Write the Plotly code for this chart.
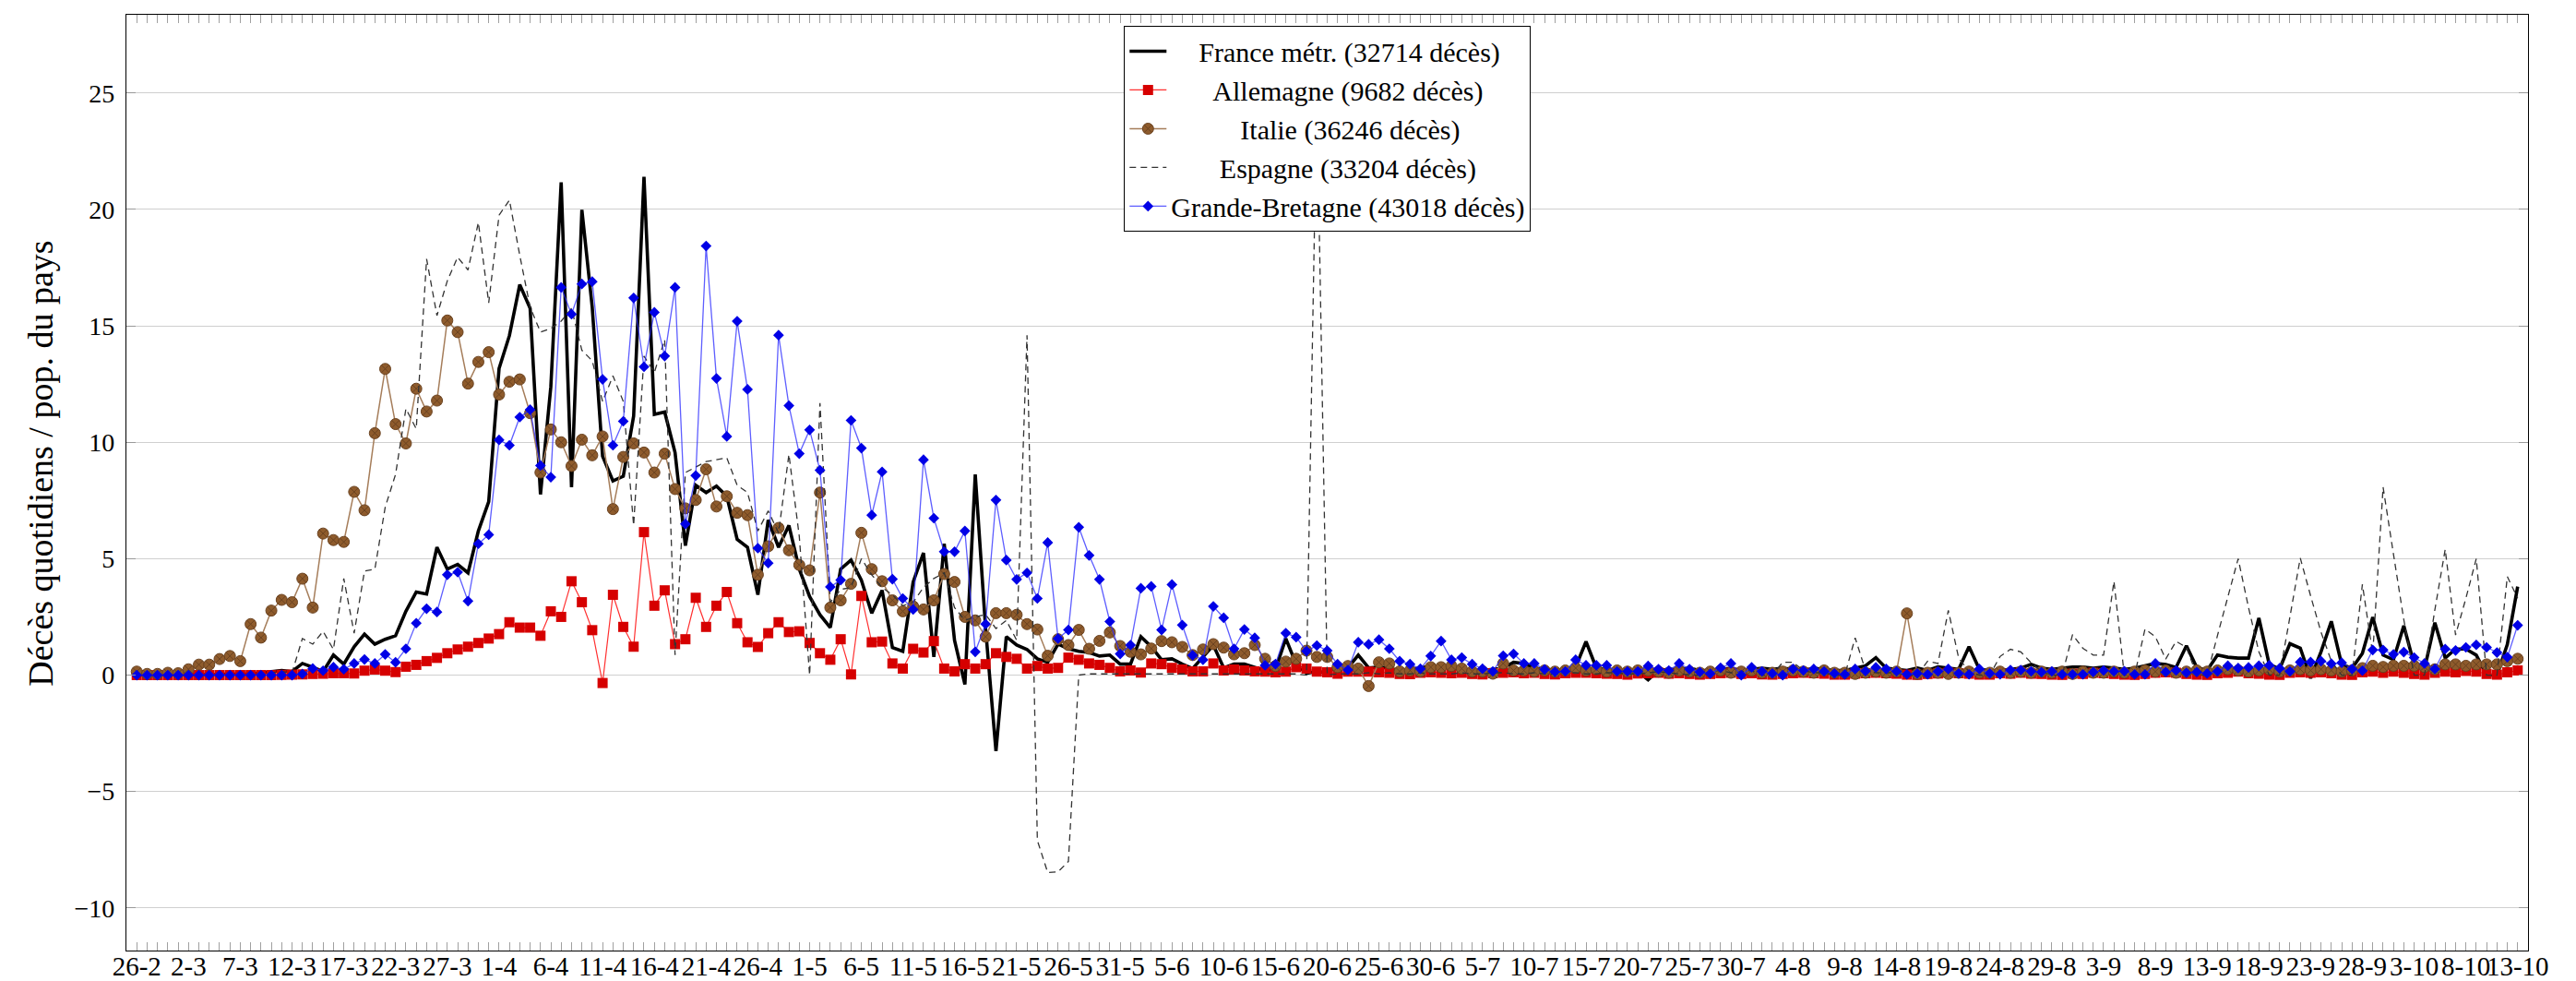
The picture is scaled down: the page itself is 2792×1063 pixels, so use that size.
import pandas as pd
import plotly.graph_objects as go

# ===== Data : décès quotidiens par million d'habitants, 26-2 -> 13-10 =====
days = pd.date_range("2020-02-26", "2020-10-13", freq="D")

tick_labels = ["26-2", "2-3", "7-3", "12-3", "17-3", "22-3", "27-3", "1-4", "6-4", "11-4",
               "16-4", "21-4", "26-4", "1-5", "6-5", "11-5", "16-5", "21-5", "26-5", "31-5",
               "5-6", "10-6", "15-6", "20-6", "25-6", "30-6", "5-7", "10-7", "15-7", "20-7",
               "25-7", "30-7", "4-8", "9-8", "14-8", "19-8", "24-8", "29-8", "3-9", "8-9",
               "13-9", "18-9", "23-9", "28-9", "3-10", "8-10", "13-10"]

france = [
    0, 0, 0.02, 0, 0, 0.02, 0.03, 0.02, 0.03, 0.05,
    0.03, 0.05, 0.1, 0.15, 0.2, 0.15, 0.5, 0.34, 0.15, 0.86,
    0.47, 1.22, 1.76, 1.33, 1.54, 1.69, 2.74, 3.57, 3.48, 5.49,
    4.55, 4.75, 4.39, 6.19, 7.45, 13.17, 14.58, 16.77, 15.75, 7.76,
    12.38, 21.16, 8.07, 19.98, 15.8, 9.4, 8.34, 8.54, 11.13, 21.4,
    11.2, 11.3, 9.56, 5.56, 8.15, 7.84, 8.12, 7.68, 5.83, 5.49,
    3.45, 6.66, 5.49, 6.43, 4.55, 3.37, 2.59, 2.04, 4.55, 4.94,
    4.08, 2.66, 3.64, 1.18, 1.02, 4.0, 5.25, 0.78, 5.64, 1.49,
    -0.4, 8.62, 2.0, -3.26, 1.65, 1.29, 1.1, 0.7, 0.55, 1.33,
    1.13, 1.02, 0.97, 0.82, 0.86, 0.47, 0.47, 1.65, 1.22, 0.66,
    0.7, 0.47, 0.28, 0.78, 1.29, 0.31, 0.47, 0.47, 0.34, 0.19,
    0.24, 1.57, 0.47, 0.08, 0.16, 0.1, 0.39, 0.31, 0.86, 0.31,
    0.35, 0.3, 0.2, 0.25, 0.3, 0.4, 0.35, 0.3, 0.25, 0.2,
    0.2, 0.25, 0.3, 0.55, 0.5, 0.3, 0.25, 0.2, 0.25, 0.35,
    1.44, 0.3, 0.25, 0.2, 0.2, 0.15, -0.2, 0.2, 0.25, 0.25,
    0.3, 0.2, 0.2, 0.25, 0.3, 0.2, 0.25, 0.3, 0.25, 0.3,
    0.25, 0.2, 0.3, 0.25, 0.2, 0.2, 0.3, 0.4, 0.75, 0.3,
    0.25, 0.2, 0.3, 0.2, 0.35, 0.3, 0.25, 1.22, 0.25, 0.2,
    0.2, 0.25, 0.3, 0.46, 0.3, 0.25, 0.3, 0.35, 0.35, 0.3,
    0.35, 0.3, 0.25, 0.3, 0.4, 0.5, 0.46, 0.33, 1.26, 0.33,
    0.2, 0.86, 0.77, 0.73, 0.73, 2.45, 0.46, 0.26, 1.35, 1.16,
    -0.13, 1.0, 2.31, 0.46, 0.29, 0.93, 2.49, 0.86, 0.66, 2.12,
    0.46, 0.26, 2.25, 0.73, 1.12, 1.12, 0.86, 0.0, 0.0, 1.32,
    3.8]

allemagne = [
    0, 0, 0, 0, 0, 0, 0, 0, 0, 0,
    0, 0, 0, 0, 0.01, 0.02, 0.03, 0.05, 0.06, 0.08,
    0.08, 0.07, 0.19, 0.24, 0.19, 0.13, 0.36, 0.44, 0.6, 0.74,
    0.94, 1.1, 1.22, 1.38, 1.57, 1.76, 2.27, 2.04, 2.04, 1.69,
    2.74, 2.5, 4.03, 3.13, 1.93, -0.34, 3.45, 2.07, 1.22, 6.14,
    2.98, 3.64, 1.33, 1.54, 3.32, 2.07, 2.98, 3.57, 2.23, 1.41,
    1.21, 1.8, 2.27, 1.85, 1.88, 1.38, 0.94, 0.66, 1.54, 0.03,
    3.4, 1.41, 1.44, 0.5, 0.28, 1.13, 0.97, 1.46, 0.28, 0.16,
    0.47, 0.28, 0.47, 0.94, 0.78, 0.7, 0.28, 0.39, 0.28, 0.31,
    0.75, 0.66, 0.5, 0.44, 0.31, 0.16, 0.2, 0.11, 0.5, 0.47,
    0.31, 0.24, 0.16, 0.16, 0.5, 0.2, 0.24, 0.2, 0.16, 0.15,
    0.12, 0.15, 0.34, 0.28, 0.15, 0.12, 0.06, 0.15, 0.15, 0.15,
    0.12, 0.1, 0.05, 0.04, 0.1, 0.12, 0.1, 0.08, 0.1, 0.05,
    0.03, 0.08, 0.1, 0.12, 0.08, 0.1, 0.05, 0.03, 0.08, 0.1,
    0.1, 0.08, 0.06, 0.05, 0.02, 0.07, 0.08, 0.1, 0.06, 0.08,
    0.05, 0.02, 0.05, 0.08, 0.1, 0.05, 0.08, 0.03, 0.02, 0.05,
    0.08, 0.1, 0.08, 0.06, 0.02, 0.02, 0.06, 0.08, 0.1, 0.08,
    0.06, 0.02, 0.01, 0.05, 0.07, 0.1, 0.08, 0.06, 0.02, 0.02,
    0.08, 0.06, 0.1, 0.06, 0.05, 0.02, 0.01, 0.06, 0.05, 0.1,
    0.08, 0.05, 0.02, 0.01, 0.05, 0.1, 0.12, 0.1, 0.05, 0.02,
    0.01, 0.08, 0.1, 0.15, 0.08, 0.06, 0.02, 0.01, 0.1, 0.12,
    0.1, 0.12, 0.08, 0.02, 0.01, 0.12, 0.15, 0.1, 0.15, 0.1,
    0.05, 0.02, 0.1, 0.15, 0.12, 0.18, 0.15, 0.05, 0.02, 0.12,
    0.2]

italie = [
    0.15, 0.05, 0.05, 0.1, 0.08, 0.25, 0.45, 0.45, 0.69, 0.82,
    0.6, 2.19, 1.61, 2.77, 3.23, 3.13, 4.14, 2.9, 6.08, 5.8,
    5.72, 7.87, 7.08, 10.39, 13.15, 10.78, 9.95, 12.3, 11.32, 11.79,
    15.23, 14.73, 12.52, 13.45, 13.87, 12.05, 12.6, 12.7, 11.25, 8.7,
    10.55, 10.0, 8.98, 10.11, 9.44, 10.25, 7.13, 9.37, 9.95, 9.56,
    8.7, 9.51, 7.99, 7.16, 7.52, 8.84, 7.24, 7.68, 6.97, 6.87,
    4.31, 5.53, 6.32, 5.36, 4.73, 4.5, 7.84, 2.9, 3.21, 3.92,
    6.11, 4.55, 4.03, 3.21, 2.74, 2.95, 2.82, 3.21, 4.34, 4.0,
    2.5, 2.35, 1.65, 2.66, 2.66, 2.59, 2.19, 1.96, 0.83, 1.54,
    1.29, 1.94, 1.13, 1.47, 1.83, 1.25, 1.0, 0.89, 1.14, 1.46,
    1.41, 1.21, 0.86, 1.1, 1.33, 1.18, 0.89, 0.94, 1.29, 0.7,
    0.39, 0.58, 0.7, 1.05, 0.78, 0.78, 0.34, 0.39, 0.28, -0.47,
    0.55, 0.5, 0.16, 0.2, 0.16, 0.34, 0.34, 0.39, 0.28, 0.16,
    0.16, 0.06, 0.5, 0.2, 0.2, 0.16, 0.2, 0.15, 0.2, 0.3,
    0.2, 0.25, 0.15, 0.2, 0.15, 0.2, 0.2, 0.15, 0.1, 0.2,
    0.15, 0.1, 0.15, 0.2, 0.1, 0.15, 0.2, 0.1, 0.1, 0.15,
    0.2, 0.15, 0.1, 0.2, 0.1, 0.1, 0.05, 0.1, 0.15, 0.1,
    0.15, 2.65, 0.05, 0.1, 0.1, 0.05, 0.1, 0.15, 0.1, 0.1,
    0.15, 0.1, 0.15, 0.1, 0.15, 0.1, 0.15, 0.05, 0.15, 0.1,
    0.1, 0.15, 0.1, 0.15, 0.2, 0.15, 0.2, 0.1, 0.15, 0.2,
    0.15, 0.2, 0.25, 0.2, 0.15, 0.2, 0.25, 0.15, 0.2, 0.25,
    0.2, 0.25, 0.2, 0.15, 0.2, 0.3, 0.4, 0.35, 0.4, 0.4,
    0.4, 0.35, 0.25, 0.46, 0.46, 0.4, 0.46, 0.46, 0.46, 0.6,
    0.7]

espagne = [
    0, 0, 0, 0, 0, 0, 0, 0, 0, 0,
    0, 0, 0, 0.1, 0.15, 0.1, 1.57, 1.33, 1.88, 1.1,
    4.15, 1.8, 4.47, 4.55, 7.21, 8.62, 11.44, 10.58, 17.87, 15.44,
    16.93, 17.95, 17.4, 19.44, 15.99, 19.75, 20.4, 18.03, 15.8, 14.73,
    14.89, 15.2, 15.75, 13.95, 13.5, 11.75, 12.85, 11.75, 6.43, 13.7,
    13.0, 14.4, 0.86, 8.7, 8.93, 9.17, 9.25, 9.33, 8.15, 7.84,
    6.19, 7.05, 6.11, 9.48, 5.96, 0.0, 11.68, 3.13, 3.68, 3.76,
    5.0, 4.31, 3.76, 3.45, 2.98, 3.13, 3.76, 4.15, 4.39, 2.9,
    2.35, 2.5, 2.6, 2.0, 2.35, 1.5, 14.6, -7.1, -8.48, -8.45,
    -8.0, 0.0, 0.05, 0.05, 0.05, 0.05, 0.05, 0.05, 0.05, 0.05,
    0.05, 0.05, 0.05, 0.05, 0.05, 0.05, 0.05, 0.05, 0.05, 0.05,
    0.05, 0.05, 0.05, 0.0, 25.01, 0.0, 0.05, 0.05, 0.05, 0.1,
    0.05, 0.1, 0.05, 0.05, 0.1, 0.05, 0.05, 0.05, 0.1, 0.05,
    0.05, 0.1, 0.1, 0.05, 0.05, 0.1, 0.05, 0.05, 0.1, 0.1,
    0.05, 0.05, 0.1, 0.1, 0.05, 0.05, 0.1, 0.15, 0.1, 0.05,
    0.0, 0.0, 0.15, 0.2, 0.1, 0.15, 0.2, 0.0, 0.0, 0.55,
    0.55, 0.2, 0.1, 0.1, 0.0, 0.0, 1.6, 0.2, 0.1, 0.1,
    0.1, 0.0, 0.0, 0.6, 0.5, 2.78, 0.73, 0.15, 0.0, 0.0,
    0.8, 1.11, 1.0, 0.53, 0.15, 0.0, 0.0, 1.74, 1.15, 0.86,
    0.86, 4.03, 0.0, 0.0, 1.98, 1.65, 0.69, 1.45, 1.19, 0.0,
    0.0, 1.7, 3.4, 5.0, 2.9, 1.0, 0.0, 0.0, 2.5, 5.03,
    3.4, 1.85, 0.6, 0.0, 0.0, 3.9, 0.9, 8.07, 5.2, 2.38,
    0.0, 0.0, 2.8, 5.4, 1.72, 3.3, 5.0, 0.0, 0.0, 4.23,
    3.3]

grande_bretagne = [
    0, 0, 0, 0, 0, 0, 0, 0, 0, 0,
    0, 0, 0, 0, 0, 0, 0.05, 0.28, 0.19, 0.34,
    0.25, 0.5, 0.67, 0.5, 0.89, 0.55, 1.13, 2.23, 2.85, 2.71,
    4.31, 4.42, 3.18, 5.64, 6.03, 10.1, 9.87, 11.08, 11.4, 9.0,
    8.5, 16.65, 15.5, 16.8, 16.9, 12.7, 9.87, 10.9, 16.2, 13.24,
    15.58, 13.7, 16.65, 6.49, 8.57, 18.43, 12.74, 10.25, 15.2, 12.27,
    5.45, 4.81, 14.6, 11.57, 9.51, 10.53, 8.8, 3.79, 4.08, 10.94,
    9.75, 6.87, 8.73, 4.12, 3.29, 2.82, 9.25, 6.74, 5.3, 5.3,
    6.19, 1.0, 2.19, 7.52, 4.94, 4.11, 4.39, 3.29, 5.69, 1.57,
    1.94, 6.35, 5.14, 4.11, 2.3, 0.91, 1.29, 3.73, 3.81, 1.94,
    3.89, 2.15, 0.85, 0.66, 2.95, 2.46, 1.13, 1.96, 1.6, 0.42,
    0.47, 1.8, 1.63, 1.03, 1.27, 1.05, 0.47, 0.22, 1.41, 1.32,
    1.52, 1.13, 0.6, 0.47, 0.27, 0.82, 1.46, 0.66, 0.75, 0.47,
    0.27, 0.16, 0.83, 0.91, 0.5, 0.5, 0.24, 0.14, 0.16, 0.66,
    0.42, 0.42, 0.42, 0.16, 0.16, 0.16, 0.39, 0.25, 0.2, 0.5,
    0.25, 0.13, 0.06, 0.31, 0.5, 0.0, 0.33, 0.16, 0.07, 0.0,
    0.26, 0.2, 0.26, 0.16, 0.07, 0.03, 0.26, 0.17, 0.33, 0.26,
    0.16, 0.03, 0.07, 0.03, 0.16, 0.26, 0.07, 0.03, 0.26, 0.07,
    0.03, 0.22, 0.22, 0.16, 0.13, 0.16, 0.03, 0.03, 0.03, 0.13,
    0.2, 0.16, 0.17, 0.03, 0.03, 0.5, 0.13, 0.2, 0.1, 0.13,
    0.07, 0.16, 0.4, 0.3, 0.33, 0.4, 0.42, 0.29, 0.16, 0.56,
    0.56, 0.6, 0.49, 0.53, 0.26, 0.19, 1.08, 1.08, 0.89, 0.99,
    0.75, 0.5, 0.26, 1.12, 1.06, 1.19, 1.3, 1.19, 0.97, 0.77,
    2.14]

serif = "Liberation Serif, DejaVu Serif, serif"
nb = "\u00a0"  # legend text is centred in the original, pad with no-break spaces

fig = go.Figure()

# France (trait noir épais)
fig.add_trace(go.Scatter(
    x=days, y=france, mode="lines", name=nb * 4 + "France métr. (32714 décès)",
    line=dict(color="black", width=3.6)))

# Allemagne (carrés rouges)
fig.add_trace(go.Scatter(
    x=days, y=allemagne, mode="lines+markers", name=nb * 6 + "Allemagne (9682 décès)",
    line=dict(color="#ff3030", width=1.2),
    marker=dict(symbol="square", size=11, color="#d60000", line=dict(width=0))))

# Italie (ronds marron)
fig.add_trace(go.Scatter(
    x=days, y=italie, mode="lines+markers", name=nb * 10 + "Italie (36246 décès)",
    line=dict(color="#a57d5a", width=1.5),
    marker=dict(symbol="circle-x", size=12, color="#8e5b2c",
                line=dict(color="#6a4220", width=1))))

# Espagne (tirets)
fig.add_trace(go.Scatter(
    x=days, y=espagne, mode="lines", name=nb * 7 + "Espagne (33204 décès)",
    line=dict(color="#333333", width=1.3, dash="7px,5px")))

# Grande-Bretagne (losanges bleus)
fig.add_trace(go.Scatter(
    x=days, y=grande_bretagne, mode="lines+markers", name="Grande-Bretagne (43018 décès)",
    line=dict(color="rgba(40,40,255,0.75)", width=1.3),
    marker=dict(symbol="diamond", size=9, color="#0000e6", line=dict(width=0))))

# ===== Layout =====
fig.update_layout(
    width=2792, height=1063,
    margin=dict(l=129, r=60, t=8, b=41),
    paper_bgcolor="white", plot_bgcolor="white",
    font=dict(family=serif, color="black"),
    legend=dict(
        x=0.5, y=0.988, xanchor="center", yanchor="top",
        bgcolor="white", bordercolor="black", borderwidth=1.3,
        font=dict(family=serif, size=30), itemwidth=40, tracegroupgap=0),
    annotations=[dict(
        text="Décès quotidiens / pop. du pays", textangle=-90,
        xref="paper", yref="paper", x=-0.0357, y=0.52,
        xanchor="center", yanchor="middle", showarrow=False,
        font=dict(family=serif, size=38))],
)

fig.update_xaxes(
    type="date", range=["2020-02-25", "2020-10-14"],
    tickmode="array", tickvals=days[::5], ticktext=tick_labels,
    tickangle=0, automargin=False, ticklabelstandoff=-9,
    tickfont=dict(family=serif, size=29),
    ticks="inside", ticklen=9, tickcolor="#a0a0a0", tickwidth=1,
    minor=dict(dtick=86400000, tick0="2020-02-26", ticks="inside", ticklen=9,
               tickcolor="#a0a0a0", tickwidth=1, showgrid=False),
    showgrid=False, zeroline=False,
    showline=True, linecolor="black", linewidth=1.3, mirror="allticks",
)

fig.update_yaxes(
    range=[-11.83, 28.36], automargin=False,
    tickvals=[-10, -5, 0, 5, 10, 15, 20, 25],
    tickfont=dict(family=serif, size=28),
    ticks="inside", ticklen=10, tickcolor="#999999", tickwidth=1,
    ticklabelstandoff=6,
    showgrid=True, gridcolor="#cfcfcf", gridwidth=1.2, zeroline=False,
    showline=True, linecolor="black", linewidth=1.3, mirror="allticks",
)

fig.write_html("out.html")
